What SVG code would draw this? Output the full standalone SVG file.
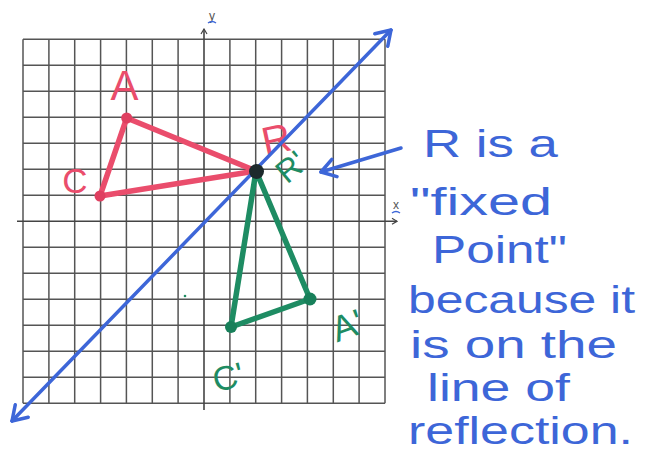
<svg xmlns="http://www.w3.org/2000/svg" width="647" height="454" viewBox="0 0 647 454">
<defs>
<style>
.grid{fill:none;stroke:#555;stroke-width:1.5}
.axis{fill:none;stroke:#444;stroke-width:1.6}
.red{fill:none;stroke:#ea4d6c;stroke-width:5.5;stroke-linejoin:round;stroke-linecap:round}
.green{fill:none;stroke:#1e8c63;stroke-width:5.5;stroke-linejoin:round;stroke-linecap:round}
.reddot{fill:#df3f60}
.greendot{fill:#18805a}
.blue{fill:none;stroke:#3d66d8;stroke-width:3.5;stroke-linecap:round;stroke-linejoin:round}
.lbl{font-family:"Liberation Sans",Arial,sans-serif}
.rtxt{fill:#ea4d6c}
.gtxt{fill:#1e8c63}
.note{font-family:"Liberation Sans",Arial,sans-serif;font-size:38px;fill:#3d66d8}
.ax{font-family:"Liberation Sans",Arial,sans-serif;font-size:12px;fill:#555}
</style>
<marker id="open" viewBox="-16 -11 18 22" markerWidth="18" markerHeight="22" refX="0" refY="0" orient="auto-start-reverse" markerUnits="userSpaceOnUse">
<path d="M-14,-9 L0,0 L-14,9" fill="none" stroke="#3d66d8" stroke-width="3.5" stroke-linecap="round" stroke-linejoin="round"/>
</marker>
<marker id="small" viewBox="-6 -4 7 8" markerWidth="7" markerHeight="8" refX="0" refY="0" orient="auto" markerUnits="userSpaceOnUse">
<path d="M-5,-3 L0,0 L-5,3" fill="none" stroke="#444" stroke-width="1.2"/>
</marker>
</defs>
<rect width="647" height="454" fill="#fff"/>

<g id="grid">
<path class="grid" d="M23,39.3V403.3M48.9,39.3V403.3M74.7,39.3V403.3M100.6,39.3V403.3M126.4,39.3V403.3M152.3,39.3V403.3M178.1,39.3V403.3M229.9,39.3V403.3M255.7,39.3V403.3M281.6,39.3V403.3M307.4,39.3V403.3M333.3,39.3V403.3M359.1,39.3V403.3M385,39.3V403.3M23,39.3H385M23,65.3H385M23,91.3H385M23,117.3H385M23,143.3H385M23,169.3H385M23,195.3H385M23,247.3H385M23,273.3H385M23,299.3H385M23,325.3H385M23,351.3H385M23,377.3H385M23,403.3H385"/>
<path class="axis" d="M204,410V29" marker-end="url(#small)"/>
<path class="axis" d="M17,221.3H397" marker-end="url(#small)"/>
<text class="ax" x="212" y="20" text-anchor="middle">y</text>
<path d="M208,23 q4,-3 8,0" fill="none" stroke="#3d66d8" stroke-width="1.5"/>
<text class="ax" x="396" y="209" text-anchor="middle">x</text>
<path d="M392,213 q4,-3 8,0" fill="none" stroke="#3d66d8" stroke-width="1.5"/>
<circle cx="185" cy="296" r="1.3" fill="#1e8c63"/>
</g>

<g id="triangle-ACR">
<polygon class="red" points="126.7,118 256,171 100,196"/>
<circle class="reddot" cx="126.7" cy="118" r="5.5"/>
<circle class="reddot" cx="100" cy="196" r="5.5"/>
<text class="lbl rtxt" x="124.5" y="100" font-size="42" text-anchor="middle">A</text>
<text class="lbl rtxt" x="75" y="193" font-size="35" text-anchor="middle">C</text>
<text class="lbl rtxt" x="276" y="153" font-size="40" text-anchor="middle" transform="rotate(-12 276 138)">R</text>
</g>

<g id="triangle-A1C1R1">
<polygon class="green" points="256,171 310,299 231,327"/>
<circle class="greendot" cx="310" cy="299" r="6.5"/>
<circle class="greendot" cx="231" cy="327" r="6"/>
<text class="lbl gtxt" x="291" y="178" font-size="32" text-anchor="middle" transform="rotate(-40 291 167)">R'</text>
<text class="lbl gtxt" x="347" y="338" font-size="36" text-anchor="middle" transform="rotate(-20 347 325)">A'</text>
<text class="lbl gtxt" x="228" y="389" font-size="34" text-anchor="middle" transform="rotate(-15 228 376)">C'</text>
</g>

<g id="connectors">
<path class="blue" d="M12,421 L391,30" marker-start="url(#open)" marker-end="url(#open)"/>
<path class="blue" d="M401,148 L321,172" marker-end="url(#open)"/>
</g>

<g id="point-R">
<circle cx="256.5" cy="171.5" r="7.5" fill="#1d2a2c"/>
</g>

<g id="note">
<text class="note" x="423" y="157" textLength="135" lengthAdjust="spacingAndGlyphs">R is a</text>
<text class="note" x="410" y="215" textLength="142" lengthAdjust="spacingAndGlyphs">"fixed</text>
<text class="note" x="432" y="263" textLength="135" lengthAdjust="spacingAndGlyphs">Point"</text>
<text class="note" x="408" y="313" textLength="227" lengthAdjust="spacingAndGlyphs">because it</text>
<text class="note" x="410" y="358" textLength="207" lengthAdjust="spacingAndGlyphs">is on the</text>
<text class="note" x="427" y="401" textLength="143" lengthAdjust="spacingAndGlyphs">line of</text>
<text class="note" x="408" y="444" textLength="225" lengthAdjust="spacingAndGlyphs">reflection.</text>
</g>
</svg>
